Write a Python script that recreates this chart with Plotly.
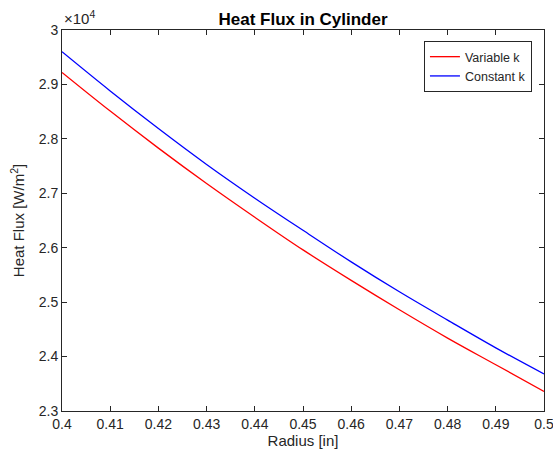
import plotly.graph_objects as go

# Radius samples [in]
radius = [0.40, 0.41, 0.42, 0.43, 0.44, 0.45, 0.46, 0.47, 0.48, 0.49, 0.50]

# Heat flux [W/m^2] for the two conductivity models
flux_variable_k = [29220, 28510, 27830, 27180, 26560, 25960, 25400, 24860, 24340, 23850, 23360]
flux_constant_k = [29600, 28880, 28190, 27530, 26910, 26320, 25740, 25190, 24670, 24160, 23680]

x_ticks = [0.40, 0.41, 0.42, 0.43, 0.44, 0.45, 0.46, 0.47, 0.48, 0.49, 0.50]
x_tick_text = ["0.4", "0.41", "0.42", "0.43", "0.44", "0.45", "0.46", "0.47", "0.48", "0.49", "0.5"]
y_ticks = [23000, 24000, 25000, 26000, 27000, 28000, 29000, 30000]
y_tick_text = ["2.3", "2.4", "2.5", "2.6", "2.7", "2.8", "2.9", "3"]

AX = "#262626"
FONT = "Liberation Sans, Arial, Helvetica, sans-serif"

fig = go.Figure()
fig.add_trace(go.Scatter(x=radius, y=flux_variable_k, mode="lines", name="Variable k",
                         line=dict(color="#FF0000", width=1.3, shape="spline")))
fig.add_trace(go.Scatter(x=radius, y=flux_constant_k, mode="lines", name="Constant k",
                         line=dict(color="#0000FF", width=1.3, shape="spline")))

axis_common = dict(showline=True, linecolor=AX, linewidth=1, mirror="ticks",
                   ticks="inside", ticklen=5, tickcolor=AX, showgrid=False, zeroline=False,
                   ticklabeloverflow="allow", automargin=False,
                   tickfont=dict(family=FONT, size=14, color=AX))

fig.update_xaxes(range=[0.4, 0.5], tickvals=x_ticks, ticktext=x_tick_text,
                 title=dict(text="Radius [in]", font=dict(family=FONT, size=15, color=AX), standoff=4),
                 **axis_common)
fig.update_yaxes(range=[23000, 30000], tickvals=y_ticks, ticktext=y_tick_text,
                 title=dict(text="Heat Flux [W/m<sup>2</sup>]", font=dict(family=FONT, size=15, color=AX), standoff=10),
                 **axis_common)

fig.add_annotation(xref="paper", yref="paper", x=0, y=1, xanchor="left", yanchor="bottom",
                   yshift=1, text="×10<sup>4</sup>", showarrow=False,
                   font=dict(family=FONT, size=15, color=AX))

fig.update_layout(
    width=553, height=458,
    margin=dict(l=62, r=9, t=30, b=47, autoexpand=False),
    paper_bgcolor="white", plot_bgcolor="white",
    title=dict(text="<b>Heat Flux in Cylinder</b>", x=0.5, xref="paper", xanchor="center",
               y=1, yref="paper", yanchor="bottom", pad=dict(b=5),
               font=dict(family=FONT, size=17, color="black")),
    showlegend=True,
    legend=dict(x=0.975, y=0.971, xanchor="right", yanchor="top",
                bgcolor="white", bordercolor=AX, borderwidth=1,
                font=dict(family=FONT, size=12.5, color=AX),
                tracegroupgap=0),
)

fig.write_html("out.html")
